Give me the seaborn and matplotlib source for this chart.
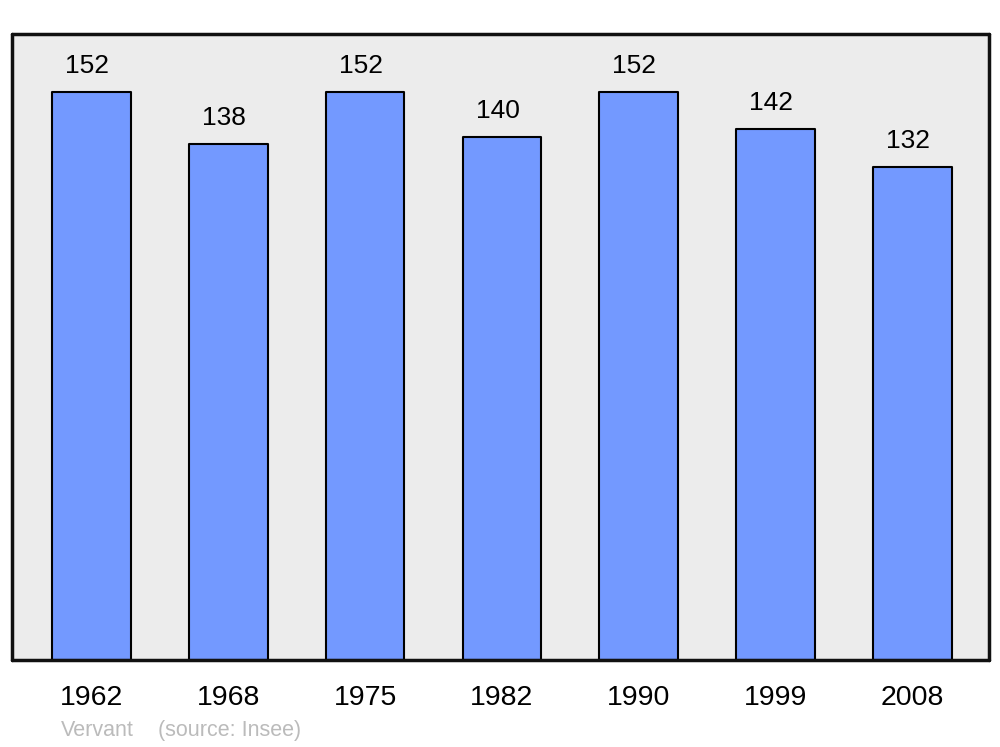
import matplotlib
matplotlib.use('Agg')
import matplotlib.pyplot as plt
import seaborn as sns
import pandas as pd

# --- Data ---
years = ["1962", "1968", "1975", "1982", "1990", "1999", "2008"]
population = [152, 138, 152, 140, 152, 142, 132]
commune = "Vervant"
source = "(source: Insee)"

df = pd.DataFrame({"year": years, "population": population})

# --- Style ---
sns.set_theme(style="white")
plt.rcParams["font.family"] = ["Liberation Sans", "DejaVu Sans"]

BAR_COLOR = "#7399ff"
BG_COLOR = "#ececec"

fig = plt.figure(figsize=(10, 7.47), dpi=100)
ax = fig.add_axes([0.0115, 0.1165, 0.978, 0.838])
ax.set_facecolor(BG_COLOR)

sns.barplot(data=df, x="year", y="population", color=BAR_COLOR, saturation=1,
            width=0.575, edgecolor="black", linewidth=1.5, ax=ax)
for p in ax.patches:
    p.set_joinstyle("round")

# value labels above bars
for i, v in enumerate(population):
    ax.annotate(str(v), (i, v), xytext=(-3, 10), textcoords="offset points",
                ha="center", va="bottom", fontsize=19, color="black")

ax.set_ylim(0, 167.5)
ax.set_xlim(-0.585, 6.565)
ax.set_yticks([])
ax.set_xlabel("")
ax.set_ylabel("")
ax.tick_params(axis="x", length=0, labelsize=20.5, pad=18, colors="black")
for s in ax.spines.values():
    s.set_visible(True)
    s.set_color("#111111")
    s.set_linewidth(2.5)
    s.set_capstyle("round")

# footer
fig.text(0.061, 0.0215, commune, fontsize=15.5, color="#bbbbbb", ha="left", va="center")
fig.text(0.158, 0.0215, source, fontsize=15.5, color="#bbbbbb", ha="left", va="center")

fig.savefig("out.png", dpi=100, facecolor="white")
